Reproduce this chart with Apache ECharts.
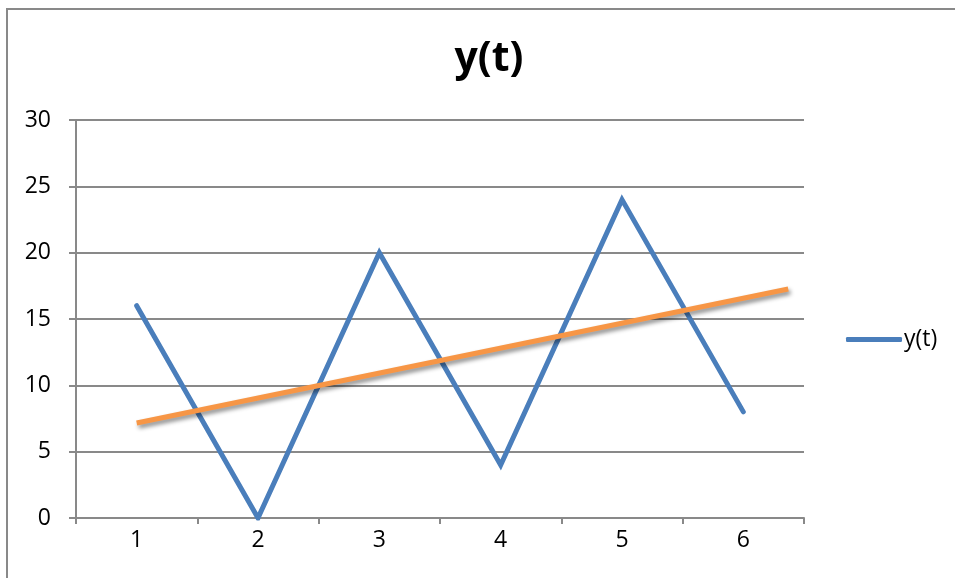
<!DOCTYPE html>
<html>
<head>
<meta charset="utf-8">
<script src="https://cdn.jsdelivr.net/npm/echarts@6/dist/echarts.min.js"></script>
<style>
  html, body { margin: 0; padding: 0; background: #ffffff; }
  #chart { width: 955px; height: 578px; }
</style>
</head>
<body>
<div id="chart"></div>
<script>
// Time steps and measured values of y(t)
const categories = ['1', '2', '3', '4', '5', '6'];
const yValues = [16, 0, 20, 4, 24, 8];

// Trend line endpoints (t, y)
const trendT = [1, 6.37];
const trendY = [7.16, 17.26];

// Value-axis ticks
const yMin = 0, yMax = 30, yStep = 5;

const gray = '#898989';
const fontFamily = '"Open Sans", Lato, sans-serif';

const chart = echarts.init(document.getElementById('chart'), null, { renderer: 'canvas' });

chart.setOption({
  backgroundColor: '#ffffff',
  animation: false,
  title: {
    text: 'y(t)',
    left: 484,
    top: 34,
    textAlign: 'center',
    textStyle: { fontFamily: fontFamily, fontSize: 41, fontWeight: 'bold', color: '#000000' }
  },
  legend: {
    left: 841,
    top: 323,
    itemWidth: 56,
    itemHeight: 5,
    itemGap: 4,
    data: [{ name: 'y(t)', icon: 'roundRect' }],
    textStyle: { fontFamily: fontFamily, fontSize: 23, color: '#000000', padding: [0, 0, 0, -3] }
  },
  grid: { left: 76, right: 151, top: 120, bottom: 60, containLabel: false },
  xAxis: [
    {
      type: 'category',
      data: categories,
      boundaryGap: true,
      axisLine: { lineStyle: { color: gray, width: 2 } },
      axisTick: { show: true, length: 6, lineStyle: { color: gray, width: 2 } },
      axisLabel: { margin: 11, fontFamily: fontFamily, fontSize: 23, color: '#000000' },
      splitLine: { show: false }
    },
    {
      type: 'value',
      min: 0.5,
      max: 6.5,
      show: false
    }
  ],
  yAxis: {
    type: 'value',
    min: yMin,
    max: yMax,
    interval: yStep,
    axisLine: { show: true, lineStyle: { color: gray, width: 2 } },
    axisTick: { show: true, length: 7, lineStyle: { color: gray, width: 2 } },
    axisLabel: { margin: 25, fontFamily: fontFamily, fontSize: 23, color: '#000000' },
    splitLine: { show: true, lineStyle: { color: gray, width: 2 } }
  },
  graphic: [
    {
      type: 'rect',
      shape: { x: 7, y: 9, width: 960, height: 600 },
      style: { fill: 'none', stroke: gray, lineWidth: 2 },
      silent: true,
      z: 100
    }
  ],
  series: [
    {
      name: 'y(t)',
      type: 'line',
      data: yValues,
      symbol: 'none',
      color: '#4a7ebb',
      lineStyle: { color: '#4a7ebb', width: 5, cap: 'round', join: 'miter' },
      z: 3
    },
    {
      name: 'trend',
      type: 'line',
      xAxisIndex: 1,
      data: trendT.map((t, i) => [t, trendY[i]]),
      symbol: 'none',
      lineStyle: {
        color: '#f79646', width: 5, cap: 'butt',
        shadowColor: 'rgba(0,0,0,0.45)', shadowBlur: 4, shadowOffsetX: 2, shadowOffsetY: 3
      },
      z: 4
    }
  ]
});
</script>
</body>
</html>
